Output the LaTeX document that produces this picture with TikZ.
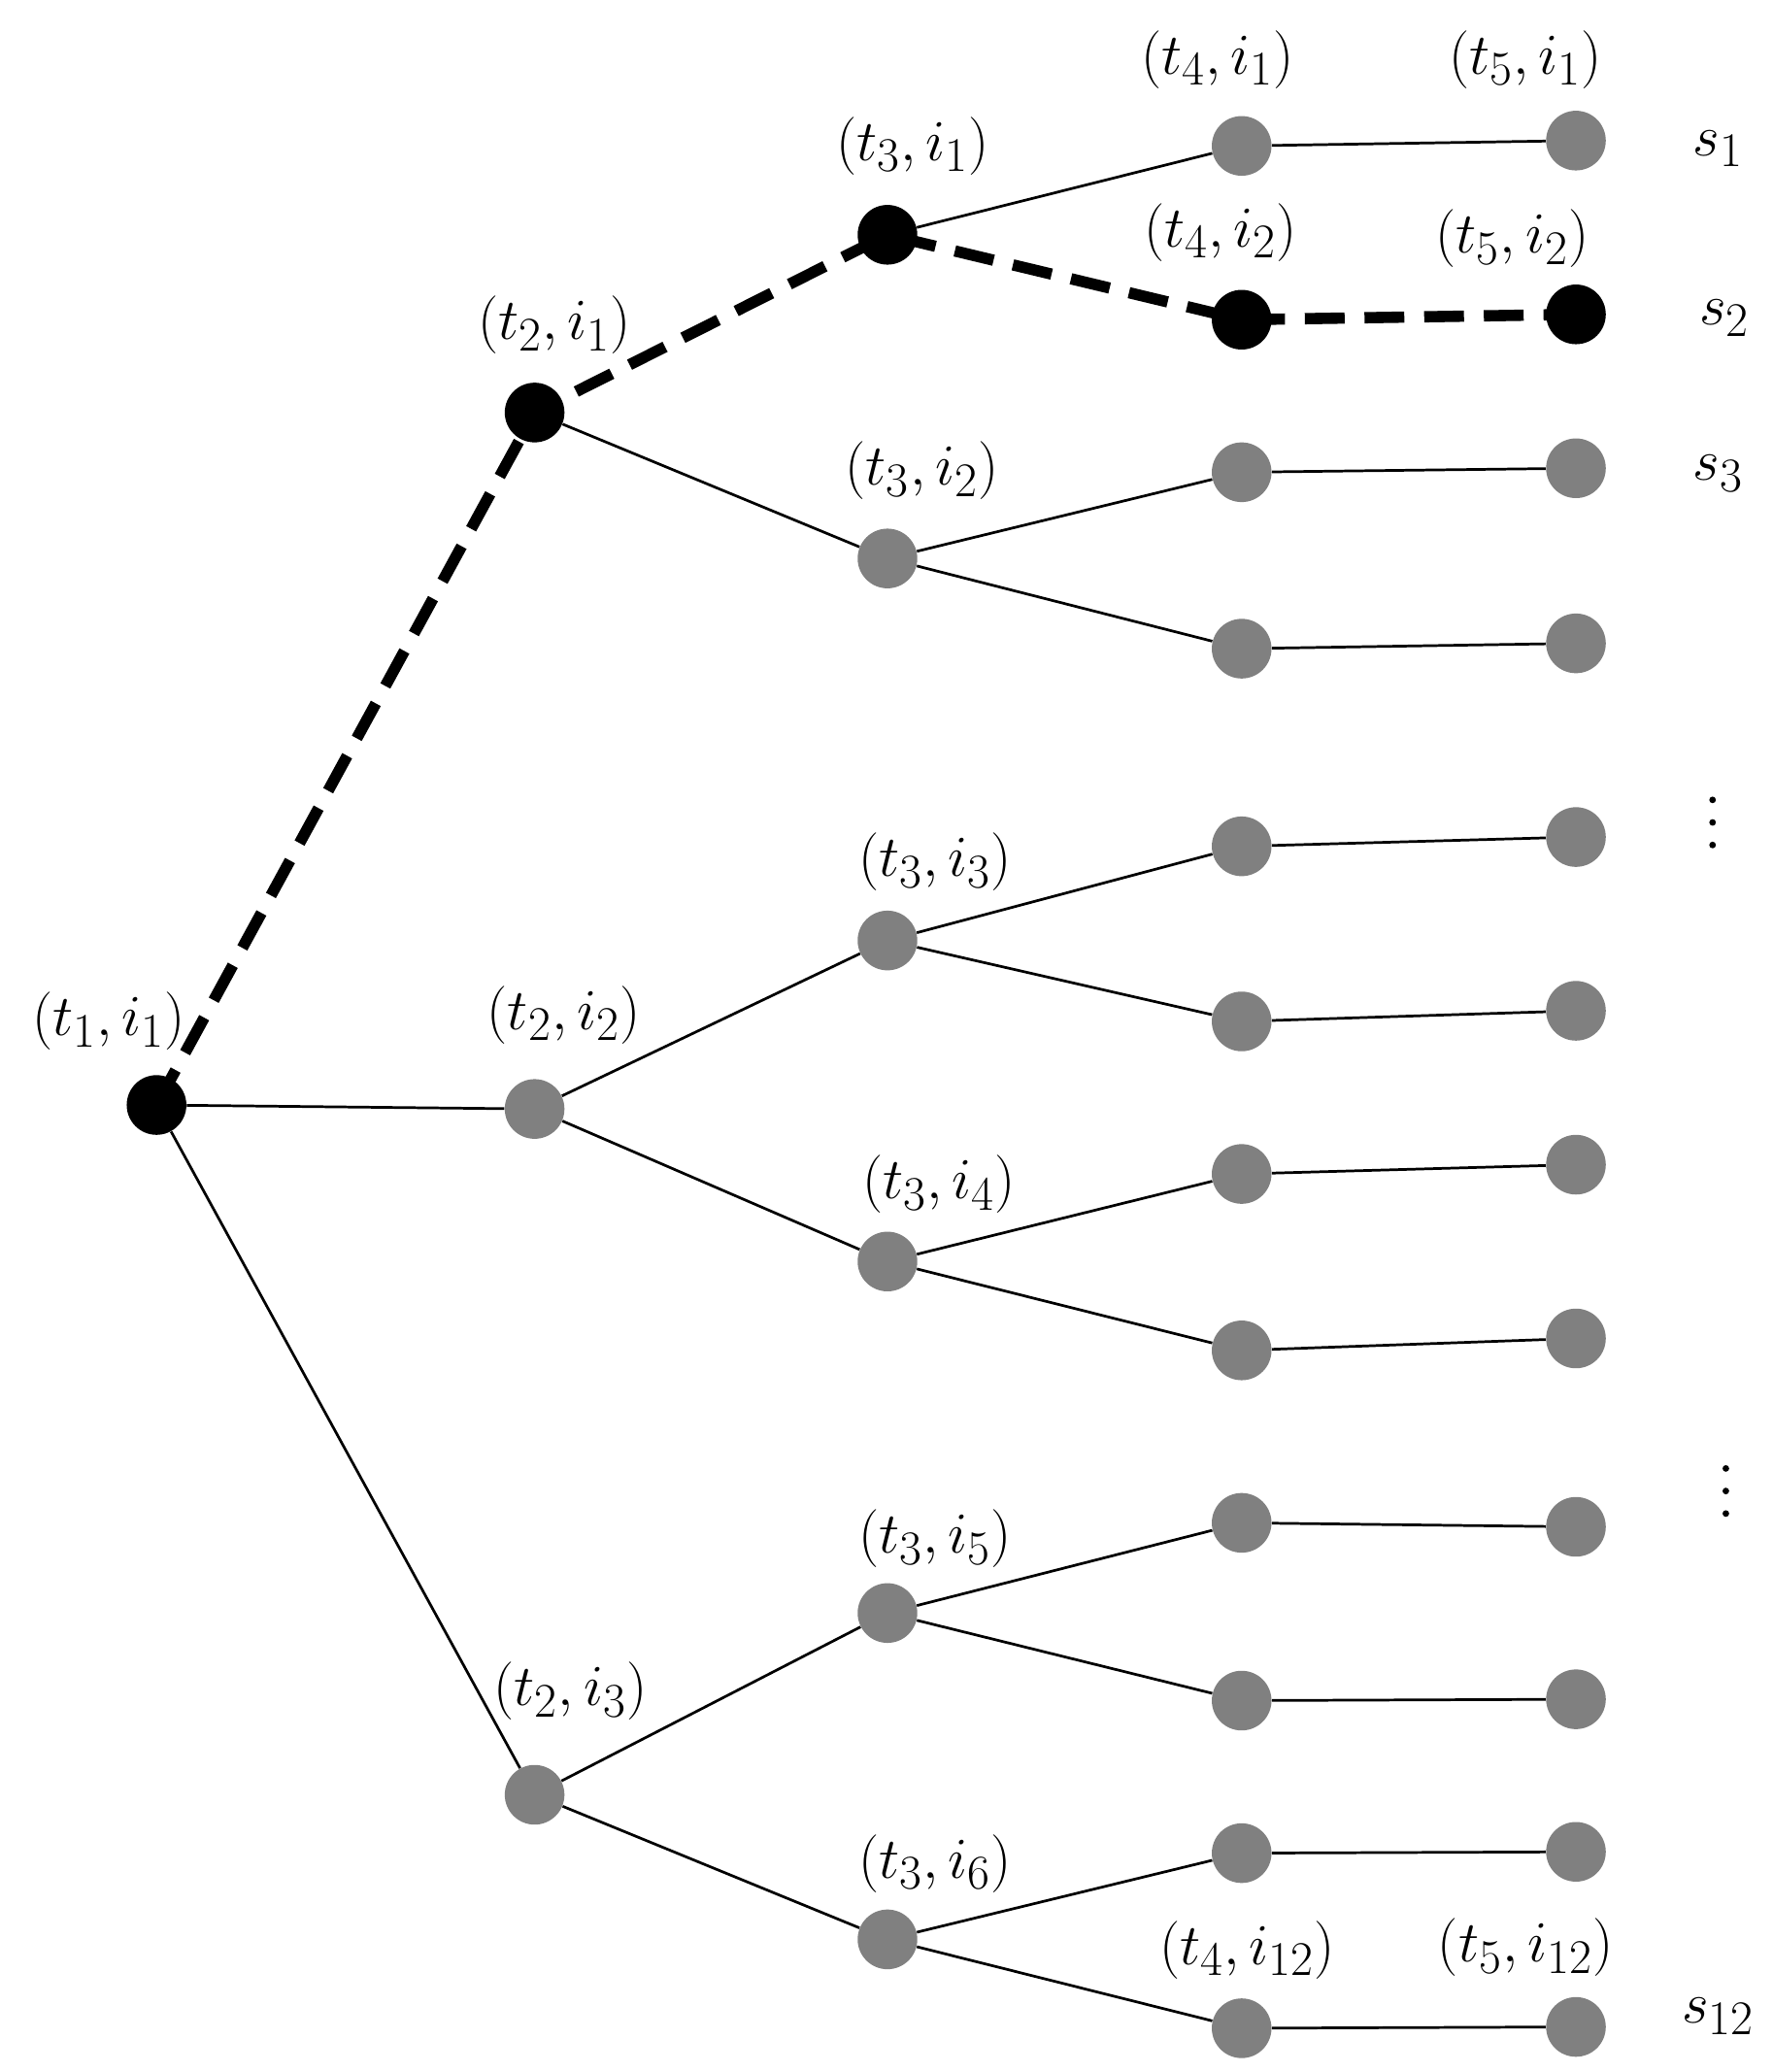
\documentclass[tikz,border=0pt]{standalone}
\begin{document}
\begin{tikzpicture}[x=0.02cm,y=-0.02cm,
  g/.style={circle,fill=gray,minimum size=0.9cm,inner sep=0pt},
  b/.style={circle,fill=black,minimum size=0.9cm,inner sep=0pt},
  e/.style={line width=0.04cm},
  d/.style={line width=0.17cm,dash pattern=on 0.6cm off 0.3cm},
  lab/.style={font=\fontsize{31}{37}\selectfont},
  vd/.style={circle,fill=black,minimum size=0.1cm,inner sep=0pt}]
\useasboundingbox (0,0) rectangle (1336,1562);
\node[b] (a) at (118,833) {};
\node[b] (b1) at (403,311) {};
\node[g] (b2) at (403,836) {};
\node[g] (b3) at (403,1353) {};
\node[b] (c1) at (669,177) {};
\node[g] (c2) at (669,421) {};
\node[g] (c3) at (669,709) {};
\node[g] (c4) at (669,951) {};
\node[g] (c5) at (669,1216) {};
\node[g] (c6) at (669,1462) {};
\foreach \i/\y/\yy in {1/110/106,3/356/353,4/489/485,5/638/631,6/770/762,7/885/878,8/1018/1009,9/1148/1151,10/1282/1281,11/1397/1396,12/1529/1528}{
  \node[g] (d\i) at (936,\y) {};
  \node[g] (f\i) at (1188,\yy) {};
  \draw[e] (d\i) -- (f\i);
}
\node[b] (d2) at (936,241) {};
\node[b] (f2) at (1188,237) {};
\draw[e] (a) -- (b2); \draw[e] (a) -- (b3);
\draw[e] (b1) -- (c2); \draw[e] (b2) -- (c3); \draw[e] (b2) -- (c4);
\draw[e] (b3) -- (c5); \draw[e] (b3) -- (c6);
\draw[e] (c1) -- (d1); \draw[e] (c2) -- (d3); \draw[e] (c2) -- (d4);
\draw[e] (c3) -- (d5); \draw[e] (c3) -- (d6); \draw[e] (c4) -- (d7); \draw[e] (c4) -- (d8);
\draw[e] (c5) -- (d9); \draw[e] (c5) -- (d10); \draw[e] (c6) -- (d11); \draw[e] (c6) -- (d12);
\draw[d] (a.center) -- (b1.center) -- (c1.center) -- (d2.center) -- (f2.center);
\node[lab] (la) at (82,770) {$(t_1,i_1)$};
\node[lab] (lb1) at (418,245) {$(t_2,i_1)$};
\node[lab] (lb2) at (425,765) {$(t_2,i_2)$};
\node[lab] (lb3) at (430,1275) {$(t_2,i_3)$};
\node[lab] (lc1) at (688,110) {$(t_3,i_1)$};
\node[lab] (lc2) at (695,355) {$(t_3,i_2)$};
\node[lab] (lc3) at (705,650) {$(t_3,i_3)$};
\node[lab] (lc4) at (708,893) {$(t_3,i_4)$};
\node[lab] (lc5) at (705,1160) {$(t_3,i_5)$};
\node[lab] (lc6) at (705,1405) {$(t_3,i_6)$};
\node[lab] (ld1) at (918,45) {$(t_4,i_1)$};
\node[lab] (lf1) at (1150,45) {$(t_5,i_1)$};
\node[lab] (ld2) at (920,175) {$(t_4,i_2)$};
\node[lab] (lf2) at (1140,180) {$(t_5,i_2)$};
\node[lab] (ld12) at (940,1470) {$(t_4,i_{12})$};
\node[lab] (lf12) at (1150,1468) {$(t_5,i_{12})$};
\node[lab] (s1) at (1295,112) {$s_1$};
\node[lab] (s2) at (1300,240) {$s_2$};
\node[lab] (s3) at (1295,357) {$s_3$};
\foreach \k/\x/\y in {1/1291/603,2/1291/620,3/1291/637,4/1301/1107,5/1301/1124,6/1301/1141}
  \node[vd] (v\k) at (\x,\y) {};
\node[lab] (s12) at (1295,1520) {$s_{12}$};
\end{tikzpicture}
\end{document}
